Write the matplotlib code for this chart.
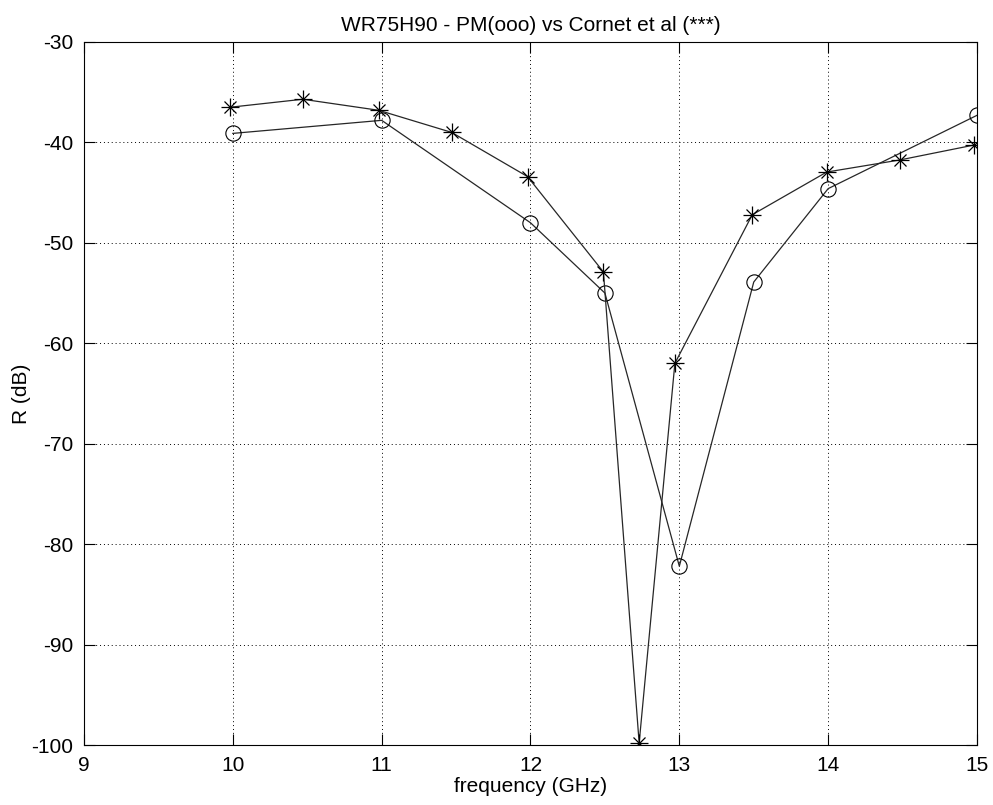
import matplotlib.pyplot as plt
import numpy as np

plt.rcParams['font.family'] = ['Liberation Sans', 'DejaVu Sans']
plt.rcParams['axes.unicode_minus'] = False

# PM (ooo)
f_pm = [10.0, 11.0, 12.0, 12.5, 13.0, 13.5, 14.0, 15.0]
r_pm = [-39.1, -37.8, -48.0, -55.0, -82.2, -53.9, -44.6, -37.3]

# Cornet et al (***)
f_cor = [9.98, 10.47, 10.98, 11.47, 11.98, 12.49, 12.73, 12.97, 13.49, 13.99, 14.48, 14.98]
r_cor = [-36.5, -35.7, -36.8, -39.0, -43.4, -52.9, -99.8, -62.0, -47.2, -42.95, -41.75, -40.26]

fig = plt.figure(figsize=(9.93, 8.05), dpi=100)
ax = fig.add_axes([84/993, 1-745/805, (977-84)/993, (745-42)/805])

ax.plot(f_pm, r_pm, color='0.15', lw=0.9, marker='o', ms=11, mfc='none', mec='k', mew=0.8)
ax.plot(f_cor, r_cor, color='0.15', lw=0.9)
# matlab style asterisk = plus + cross
ax.plot(f_cor, r_cor, ls='none', marker='+', ms=13, mec='k', mew=0.9)
ax.plot(f_cor, r_cor, ls='none', marker='x', ms=9, mec='k', mew=0.9)

ax.set_xlim(9, 15)
ax.set_ylim(-100, -30)
ax.set_xticks(np.arange(9, 16, 1))
ax.set_yticks(np.arange(-100, -29, 10))
ax.grid(True, linestyle=(0, (1, 3)), color='k', lw=0.7)
ax.tick_params(direction='in', top=True, right=True, labelsize=15, length=8, pad=8, width=0.8)
for s in ax.spines.values():
    s.set_linewidth(0.8)

ax.set_title("WR75H90 - PM(ooo) vs Cornet et al (***)", fontsize=15, pad=8)
ax.set_xlabel("frequency (GHz)", fontsize=15, labelpad=1)
ax.set_ylabel("R (dB)", fontsize=15, labelpad=0)

fig.savefig("out.png", dpi=100)
